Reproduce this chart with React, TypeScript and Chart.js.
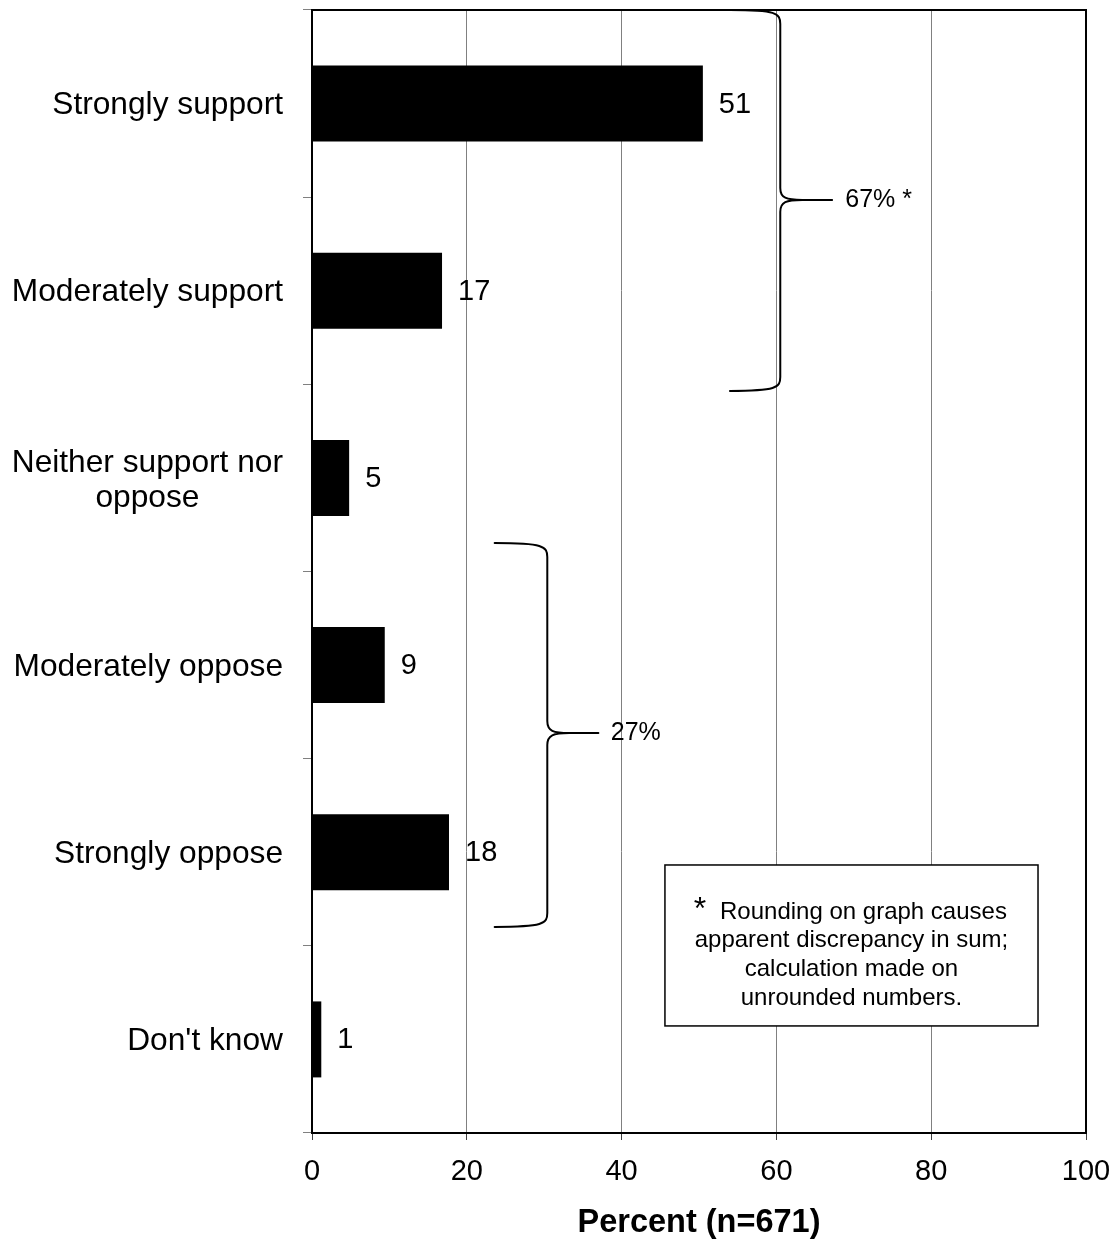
import React, { useEffect, useRef } from "react";
import { Chart, registerables } from "chart.js";

Chart.register(...registerables);

// ---- Data ----
const categories: (string | string[])[] = [
  "Strongly support",
  "Moderately support",
  ["Neither support nor", "oppose"],
  "Moderately oppose",
  "Strongly oppose",
  "Don't know",
];
const percents = [50.5, 16.8, 4.8, 9.4, 17.7, 1.2];
const valueLabels = ["51", "17", "5", "9", "18", "1"];
const xTicks = [0, 20, 40, 60, 80, 100];
const axisTitle = "Percent (n=671)";
const supportBraceLabel = "67% *";
const opposeBraceLabel = "27%";
const noteLines = [
  "Rounding on graph causes",
  "apparent discrepancy in sum;",
  "calculation made on",
  "unrounded numbers.",
];

const FONT = '"Liberation Sans", Arial, Helvetica, sans-serif';
const CAT_FONT_SIZE = 31.7;
const CAT_LINE_HEIGHT = 1.1;
const CAT_LABEL_SHIFT = 2;

function drawBrace(
  ctx: CanvasRenderingContext2D,
  xEnd: number,
  xV: number,
  xTip: number,
  yTop: number,
  yMid: number,
  yBot: number
) {
  ctx.beginPath();
  ctx.moveTo(xEnd, yTop);
  ctx.bezierCurveTo(xV - 4, yTop, xV, yTop + 3, xV, yTop + 14);
  ctx.lineTo(xV, yMid - 12);
  ctx.bezierCurveTo(xV, yMid - 2, xV + 6, yMid, xV + 22, yMid);
  ctx.lineTo(xTip, yMid);
  ctx.moveTo(xV + 22, yMid);
  ctx.bezierCurveTo(xV + 6, yMid, xV, yMid + 2, xV, yMid + 12);
  ctx.lineTo(xV, yBot - 14);
  ctx.bezierCurveTo(xV, yBot - 3, xV - 4, yBot, xEnd, yBot);
  ctx.stroke();
}

const overlayPlugin = {
  id: "overlay",
  afterDatasetsDraw(chart: any) {
    const ctx: CanvasRenderingContext2D = chart.ctx;
    const meta = chart.getDatasetMeta(0);
    ctx.save();
    ctx.fillStyle = "#000";
    ctx.font = `29px ${FONT}`;
    ctx.textAlign = "left";
    ctx.textBaseline = "middle";
    meta.data.forEach((bar: any, i: number) => {
      ctx.fillText(valueLabels[i], bar.x + 16, bar.y + 1);
    });
    ctx.restore();
  },
  afterDraw(chart: any) {
    const ctx: CanvasRenderingContext2D = chart.ctx;
    const xs = chart.scales.x;
    const ys = chart.scales.y;
    const ca = chart.chartArea;
    const px = (v: number) => xs.getPixelForValue(v);
    const py = (v: number) => ys.getPixelForValue(v);

    ctx.save();
    // multi-line category labels, centred block, right edge at the label column
    ctx.fillStyle = "#000";
    ctx.font = `${CAT_FONT_SIZE}px ${FONT}`;
    ctx.textAlign = "center";
    ctx.textBaseline = "middle";
    const labelRight = ys.right - 9 - 20;
    categories.forEach((cat, i) => {
      if (!Array.isArray(cat)) return;
      const w = Math.max(...cat.map((l) => ctx.measureText(l).width));
      const cxl = labelRight - w / 2;
      const lh = CAT_FONT_SIZE * CAT_LINE_HEIGHT;
      const y0 = py(i) + CAT_LABEL_SHIFT + 1 - ((cat.length - 1) * lh) / 2;
      cat.forEach((l, k) => ctx.fillText(l, cxl, y0 + k * lh));
    });

    // frame
    ctx.strokeStyle = "#000";
    ctx.lineWidth = 2;
    ctx.strokeRect(ca.left, ca.top, ca.right - ca.left, ca.bottom - ca.top);

    // braces
    ctx.lineWidth = 2;
    ctx.lineCap = "round";
    drawBrace(ctx, px(54), px(60.5), px(67.2), py(-0.5), py(0.515), py(1.535));
    drawBrace(ctx, px(23.6), px(30.4), px(37.0), py(2.348), py(3.363), py(4.399));

    ctx.fillStyle = "#000";
    ctx.font = `25px ${FONT}`;
    ctx.textAlign = "left";
    ctx.textBaseline = "middle";
    ctx.fillText(supportBraceLabel, px(68.9), py(0.515));
    ctx.fillText(opposeBraceLabel, px(38.6), py(3.363));

    // note box
    const bx0 = px(45.6);
    const bx1 = px(93.8);
    const by0 = py(4.068);
    const by1 = py(4.928);
    ctx.fillStyle = "#fff";
    ctx.fillRect(bx0, by0, bx1 - bx0, by1 - by0);
    ctx.strokeStyle = "#000";
    ctx.lineWidth = 1.5;
    ctx.strokeRect(bx0, by0, bx1 - bx0, by1 - by0);

    const cx = (bx0 + bx1) / 2;
    ctx.fillStyle = "#000";
    ctx.font = `24px ${FONT}`;
    ctx.textAlign = "center";
    ctx.textBaseline = "middle";
    noteLines.forEach((line, i) => {
      const shift = i === 0 ? 12 : 0;
      ctx.fillText(line, cx + shift, by0 + 47 + i * 28.7);
    });
    const w0 = ctx.measureText(noteLines[0]).width;
    const starX = cx + 12 - w0 / 2 - 20;
    ctx.font = `32px ${FONT}`;
    ctx.fillText("*", starX, by0 + 45);
    ctx.restore();
  },
};

export default function App() {
  const canvasRef = useRef<HTMLCanvasElement | null>(null);

  useEffect(() => {
    document.body.style.margin = "0";
    const canvas = canvasRef.current;
    if (!canvas) return;
    Chart.defaults.font.family = FONT;
    const chart = new Chart(canvas, {
      type: "bar",
      data: {
        labels: categories as any,
        datasets: [
          {
            data: percents,
            backgroundColor: "#000",
            borderWidth: 0,
            barPercentage: 0.406,
            categoryPercentage: 1,
          },
        ],
      },
      options: {
        indexAxis: "y",
        responsive: false,
        animation: false,
        devicePixelRatio: 1,
        layout: { padding: { top: 10, right: 29, left: 0, bottom: 0 } },
        plugins: {
          legend: { display: false },
          tooltip: { enabled: false },
          title: { display: false },
        },
        scales: {
          x: {
            type: "linear",
            position: "bottom",
            min: 0,
            max: 100,
            afterBuildTicks: (scale: any) => {
              scale.ticks = xTicks.map((v) => ({ value: v }));
            },
            afterFit: (scale: any) => {
              scale.height = 106;
              scale.paddingLeft = 0;
              scale.paddingRight = 0;
              scale.paddingTop = 0;
              scale.paddingBottom = 0;
            },
            ticks: {
              color: "#000",
              font: { size: 29 },
              padding: 15,
              maxRotation: 0,
            },
            grid: {
              color: "#808080",
              lineWidth: 1,
              tickLength: 7,
              tickColor: "#404040",
            },
            border: { display: true, color: "#000", width: 2 },
            title: {
              display: true,
              text: axisTitle,
              color: "#000",
              font: { size: 32.5, weight: "bold" },
              padding: { top: 0, bottom: -4 },
            },
          },
          y: {
            type: "category",
            offset: true,
            afterFit: (scale: any) => {
              scale.width = 312;
              scale.paddingLeft = 0;
              scale.paddingRight = 0;
              scale.paddingTop = 0;
              scale.paddingBottom = 0;
            },
            ticks: {
              color: (c: any) =>
                Array.isArray(categories[c.index]) ? "rgba(0,0,0,0)" : "#000",
              font: { size: CAT_FONT_SIZE, lineHeight: CAT_LINE_HEIGHT },
              padding: 20,
              labelOffset: CAT_LABEL_SHIFT,
              autoSkip: false,
            },
            grid: {
              offset: true,
              drawOnChartArea: false,
              tickLength: 9,
              color: "#808080",
            },
            border: { display: true, color: "#000", width: 2 },
          },
        },
      },
      plugins: [overlayPlugin],
    } as any);
    return () => chart.destroy();
  }, []);

  return (
    <div style={{ position: "absolute", left: 0, top: 0, width: 1115, height: 1239, background: "#fff" }}>
      <canvas ref={canvasRef} width={1115} height={1239} style={{ width: 1115, height: 1239, display: "block" }} />
    </div>
  );
}
